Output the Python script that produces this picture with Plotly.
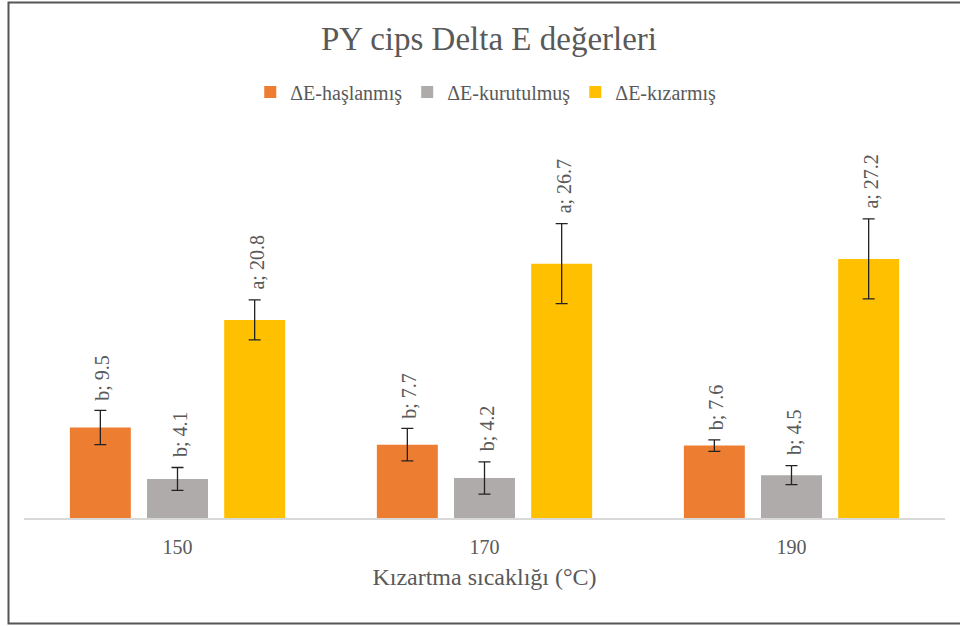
import plotly.graph_objects as go

categories = ["150", "170", "190"]
series_names = ["ΔE-haşlanmış", "ΔE-kurutulmuş", "ΔE-kızarmış"]
haslanmis = [9.5, 7.7, 7.6]
haslanmis_err = [1.8, 1.7, 0.6]
kurutulmus = [4.1, 4.2, 4.5]
kurutulmus_err = [1.2, 1.7, 1.0]
kizarmis = [20.8, 26.7, 27.2]
kizarmis_err = [2.1, 4.2, 4.2]
haslanmis_letters = ["b", "b", "b"]
kurutulmus_letters = ["b", "b", "b"]
kizarmis_letters = ["a", "a", "a"]

colors = ["#ED7D31", "#AFABAB", "#FFC000"]
FONT = "Liberation Serif, Times New Roman, serif"
TXT = "#595959"

W, H = 960, 626
ML, MR, MT, MB = 24, 15, 137, 108
BARGAP = 0.246
BARGROUPGAP = 0.21

series = [
    (haslanmis, haslanmis_err, haslanmis_letters),
    (kurutulmus, kurutulmus_err, kurutulmus_letters),
    (kizarmis, kizarmis_err, kizarmis_letters),
]

fig = go.Figure()
for (vals, errs, _), name, col in zip(series, series_names, colors):
    fig.add_trace(go.Bar(
        x=categories, y=vals, name=name,
        marker=dict(color=col, line=dict(width=0)),
        error_y=dict(type="data", array=errs, visible=True,
                     color="#222222", thickness=1.3, width=6),
    ))

plot_w = W - ML - MR
plot_h = H - MT - MB
slot_px = plot_w / len(categories) * (1 - BARGAP) / len(series)
annotations = []
for i, (vals, errs, letters) in enumerate(series):
    for ci, (v, e, l) in enumerate(zip(vals, errs, letters)):
        annotations.append(dict(
            x=ci, y=v + e, xref="x", yref="y",
            text=f"{l}; {v}", showarrow=False, textangle=-90,
            xanchor="center", yanchor="bottom",
            xshift=(i - 1) * slot_px + 2, yshift=8,
            font=dict(family=FONT, size=20, color=TXT),
        ))

fig.update_layout(
    width=W, height=H,
    margin=dict(l=ML, r=MR, t=MT, b=MB, autoexpand=False),
    paper_bgcolor="white", plot_bgcolor="white",
    barmode="group", bargap=BARGAP, bargroupgap=BARGROUPGAP,
    title=dict(text="PY cips Delta E değerleri", x=0.5 + 9 / W, xanchor="center",
               y=1 - 38 / H, yanchor="middle", yref="container",
               font=dict(family=FONT, size=33, color=TXT)),
    legend=dict(orientation="h", xref="container", x=0.506, xanchor="center",
                yref="container", y=1 - 92 / H, yanchor="middle",
                font=dict(family=FONT, size=20, color=TXT), itemwidth=30,
                traceorder="normal"),
    showlegend=True,
    hovermode=False,
    annotations=annotations,
    xaxis=dict(type="category", range=[-0.5, 2.5], showline=True, linecolor="#D9D9D9",
               linewidth=2, showgrid=False, zeroline=False, ticks="outside", ticklen=10,
               tickcolor="rgba(0,0,0,0)",
               tickfont=dict(family=FONT, size=20, color=TXT),
               title=dict(text="Kızartma sıcaklığı (°C)", standoff=11,
                          font=dict(family=FONT, size=24, color=TXT))),
    yaxis=dict(range=[0, 40], visible=False, showgrid=False, zeroline=False),
    shapes=[dict(type="rect", xref="paper", yref="paper",
                 x0=(8.5 - ML) / plot_w, x1=(990 - ML) / plot_w,
                 y0=(H - MB - 623.5) / plot_h, y1=(H - MB - 2.5) / plot_h,
                 line=dict(color="#555555", width=2), layer="below")],
)

fig.write_html("out.html", config={"displayModeBar": False},
               post_script="document.body.style.margin='0';")
